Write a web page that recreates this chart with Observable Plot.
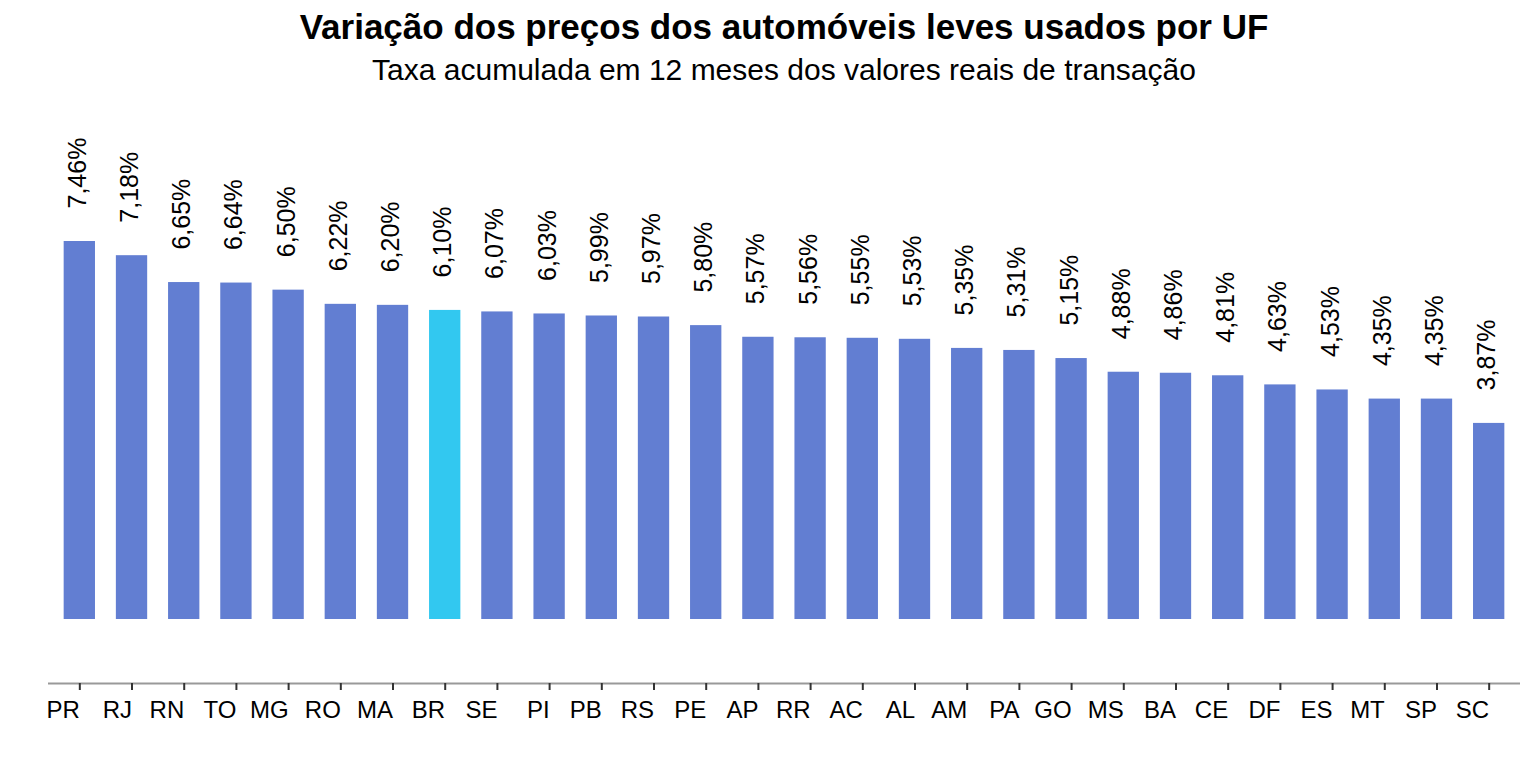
<!DOCTYPE html>
<html>
<head>
<meta charset="utf-8">
<script src="https://cdn.jsdelivr.net/npm/d3@7"></script>
<script src="https://cdn.jsdelivr.net/npm/@observablehq/plot@0.6"></script>
<style>
  html, body { margin: 0; padding: 0; background: #fff; }
  body { width: 1536px; height: 768px; overflow: hidden; font-family: "Liberation Sans", Arial, sans-serif; }
  #head { height: 100px; box-sizing: border-box; padding: 7px 16px 0 48px; text-align: center; color: #000; }
  #title { font-weight: bold; font-size: 35px; line-height: 40px; }
  #subtitle { font-size: 30px; line-height: 46px; }
  svg { display: block; }
</style>
</head>
<body>
<div id="head">
  <div id="title">Variação dos preços dos automóveis leves usados por UF</div>
  <div id="subtitle">Taxa acumulada em 12 meses dos valores reais de transação</div>
</div>
<div id="chart"></div>
<script>
const ufs = ["PR","RJ","RN","TO","MG","RO","MA","BR","SE","PI","PB","RS","PE","AP","RR","AC","AL","AM","PA","GO","MS","BA","CE","DF","ES","MT","SP","SC"];
const values = [7.46,7.18,6.65,6.64,6.50,6.22,6.20,6.10,6.07,6.03,5.99,5.97,5.80,5.57,5.56,5.55,5.53,5.35,5.31,5.15,4.88,4.86,4.81,4.63,4.53,4.35,4.35,3.87];
const highlight = "BR";
const yMin = -1.263, yMax = 9.848;

const data = ufs.map((uf, i) => ({uf, value: values[i]}));
const fmt = v => v.toFixed(2).replace(".", ",") + "%";

const chart = Plot.plot({
  width: 1536,
  height: 668,
  marginLeft: 48,
  marginRight: 16,
  marginTop: 20,
  marginBottom: 85,
  style: {fontFamily: "Liberation Sans, Arial, sans-serif", color: "#000", background: "#fff"},
  x: {domain: ufs, padding: 0.4, paddingOuter: 0.3, round: false, label: null},
  y: {domain: [yMin, yMax], axis: null},
  marks: [
    Plot.barY(data, {x: "uf", y: "value", fill: d => d.uf === highlight ? "#32C8F0" : "#627ED2"}),
    Plot.text(data, {x: "uf", y: "value", text: d => fmt(d.value), rotate: -90, textAnchor: "start", dy: -33, dx: -2, fontSize: 25, fill: "#000"}),
    Plot.ruleY([yMin], {stroke: "#999", strokeWidth: 2}),
    Plot.axisX({tickSize: 7, tickPadding: 10, fontSize: 24, textAnchor: "end", stroke: "#333", strokeWidth: 2, fill: "#000", label: null})
  ]
});
document.getElementById("chart").appendChild(chart);
</script>
</body>
</html>
